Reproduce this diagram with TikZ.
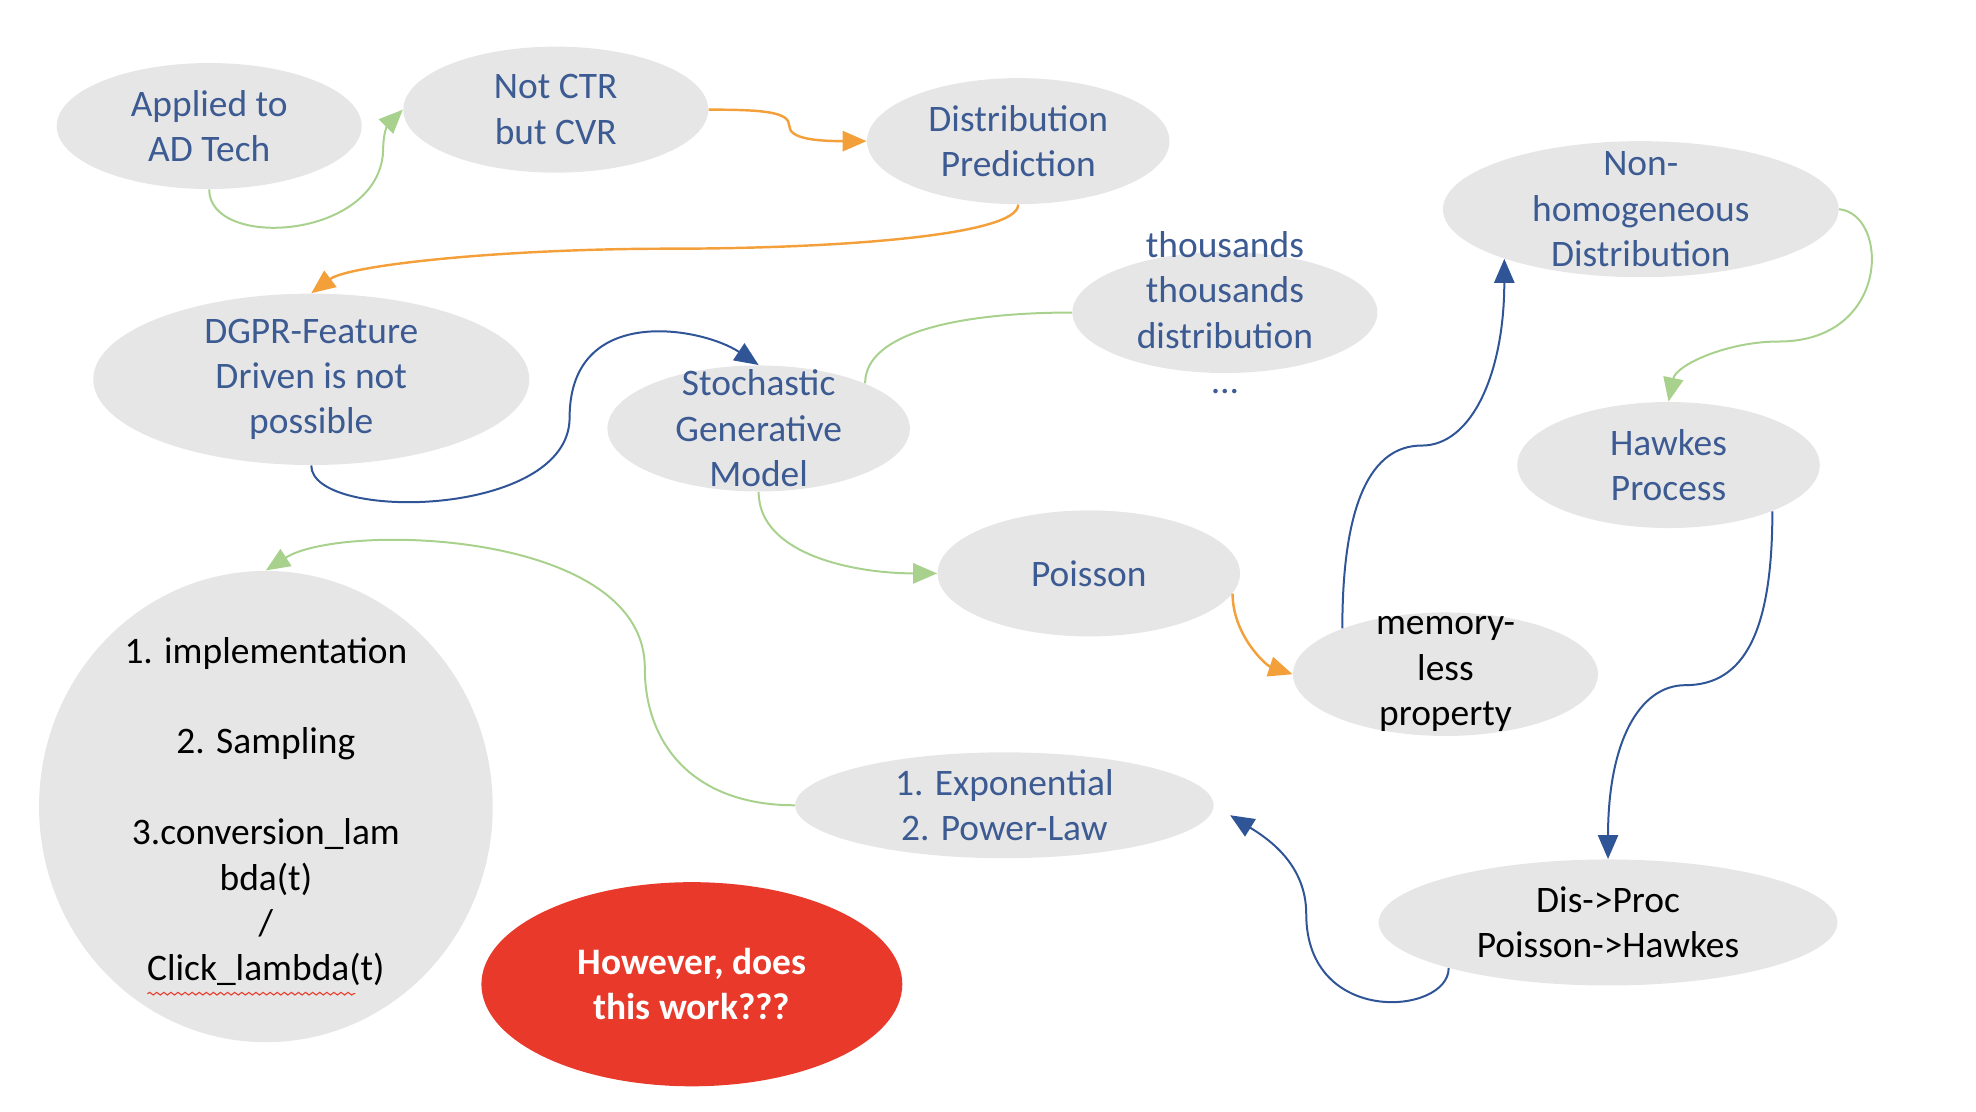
\documentclass[tikz,border=0pt]{standalone}
\usepackage{fontspec}
\setmainfont{Carlito}
\usetikzlibrary{arrows.meta,shapes.geometric,decorations.pathmorphing}

\definecolor{bubblegrey}{HTML}{E7E6E6}
\definecolor{inkblue}{HTML}{3C5B92}
\definecolor{lineblue}{HTML}{2F5597}
\definecolor{linegreen}{HTML}{A9D18E}
\definecolor{lineorange}{HTML}{F4A03A}
\definecolor{alarmred}{HTML}{E8392A}
\definecolor{spellred}{HTML}{E84030}

\begin{document}
\begin{tikzpicture}[
    bubble/.style={ellipse, fill=bubblegrey, inner sep=0},
    words/.style={align=center, inner sep=0,
        font=\fontsize{16.9pt}{20.5pt}\selectfont, text=inkblue},
    blackwords/.style={words, text=black},
    link/.style={-{Triangle[length=.38cm, width=.32cm]}, line width=.9pt},
    greenlink/.style={link, draw=linegreen},
    orangelink/.style={link, draw=lineorange, line width=1.1pt},
    bluelink/.style={link, draw=lineblue},
]
    \useasboundingbox (0, 0) rectangle (31.36, -17.64);

    %% the bubbles, text put on top so the ellipse keeps its size
    \node[bubble, minimum width=4.84cm, minimum height=2cm] (applied)
        at (3.32, -2) {};
    \node[words] (applied-text) at (applied) {Applied to\\AD Tech};
    \node[bubble, minimum width=4.84cm, minimum height=2cm] (notctr)
        at (8.82, -1.74) {};
    \node[words] (notctr-text) at (notctr) {Not CTR\\but CVR};
    \node[bubble, minimum width=4.8cm, minimum height=2cm] (distpred)
        at (16.16, -2.24) {};
    \node[words] (distpred-text) at (distpred) {Distribution\\Prediction};
    \node[bubble, minimum width=6.92cm, minimum height=2.72cm] (dgpr)
        at (4.94, -6.02) {};
    \node[words] (dgpr-text) at (dgpr)
        {DGPR-Feature\\Driven is not\\possible};
    \node[bubble, minimum width=4.8cm, minimum height=2cm] (stoch)
        at (12.04, -6.8) {};
    \node[words] (stoch-text) at (stoch) {Stochastic\\Generative\\Model};
    \node[bubble, minimum width=4.84cm, minimum height=1.92cm] (thous)
        at (19.44, -4.96) {};
    \node[words] (thous-text) at (thous)
        {thousands\\thousands\\distribution\\\dots};
    \node[bubble, minimum width=6.28cm, minimum height=2.16cm] (nonhom)
        at (26.04, -3.32) {};
    \node[words] (nonhom-text) at (nonhom)
        {Non-\\homogeneous\\Distribution};
    \node[bubble, minimum width=4.8cm, minimum height=2cm] (hawkes)
        at (26.48, -7.38) {};
    \node[words] (hawkes-text) at (hawkes) {Hawkes\\Process};
    \node[bubble, minimum width=4.8cm, minimum height=2cm] (poisson)
        at (17.28, -9.1) {};
    \node[words] (poisson-text) at (poisson) {Poisson};
    \node[bubble, minimum width=4.84cm, minimum height=1.96cm] (memory)
        at (22.94, -10.7) {};
    \node[blackwords] (memory-text) at (memory) {memory-\\less\\property};
    \node[bubble, minimum width=6.64cm, minimum height=1.68cm] (expo)
        at (15.94, -12.78) {};
    \node[words] (expo-text) at (expo) {1. Exponential\\2. Power-Law};
    \node[bubble, minimum width=7.28cm, minimum height=2cm] (disproc)
        at (25.52, -14.64) {};
    \node[blackwords] (disproc-text) at (disproc)
        {Dis->Proc\\Poisson->Hawkes};
    \node[bubble, minimum width=7.2cm, minimum height=7.48cm] (big)
        at (4.22, -12.8) {};
    \node[blackwords] (big-text) at ([yshift=-.08cm]big.center)
        {1. implementation\\[20.5pt]2. Sampling\\[20.5pt]3.conversion\_lam\\
         bda(t)\\/\\Click\_lambda(t)};
    \draw[spellred, line width=.5pt, decorate,
        decoration={snake, amplitude=.6pt, segment length=3.2pt}]
        ([shift={(-1.88, -2.97)}]big.center)
        -- ([shift={(1.42, -2.97)}]big.center);
    \node[ellipse, fill=alarmred, inner sep=0, minimum width=6.68cm,
        minimum height=3.24cm] (doubt) at (10.98, -15.62) {};
    \node[words, text=white, font=\fontsize{16.9pt}{20.5pt}\selectfont\bfseries]
        (doubt-text) at (doubt) {However, does\\this work???};

    %% top row and the way down to the generative model
    \draw[greenlink] (applied.south) .. controls +(0, -.96) and +(-.08, -1.4)
        .. ++(2.76, .6) .. controls +(0, .4) and +(-.2, -.2) .. (notctr.west);
    \draw[orangelink] (notctr.east) .. controls +(.9, 0) and +(0, .22)
        .. ++(1.28, -.26) .. controls +(0, -.2) and +(-.8, 0)
        .. (distpred.west);
    \draw[orangelink] (distpred.south) .. controls +(0, -.5) and +(2.6, 0)
        .. ++(-5.56, -.7) .. controls +(-2.6, 0) and +(.6, .45)
        .. (dgpr.north);
    \draw[bluelink] (dgpr.south) .. controls +(0, -.9) and +(0, -1.6)
        .. ++(4.1, .76) .. controls +(0, 1.82) and +(-.9, .6)
        .. (stoch.north);
    \draw[linegreen, line width=.9pt] (stoch.23) .. controls +(0, .8)
        and +(-1.8, 0) .. (thous.west);
    \draw[greenlink] (stoch.south) .. controls +(0, -1) and +(-1.3, 0)
        .. (poisson.west);

    %% right hand side, round to the Hawkes process
    \draw[orangelink] (poisson.-8) .. controls +(0, -.66) and +(-.42, .14)
        .. (memory.west);
    \draw[bluelink] (memory.156) .. controls +(0, 2) and +(-.8, 0)
        .. ++(1.26, 2.9) .. controls +(.8, 0) and +(0, -1.8) .. (nonhom.200);
    \draw[greenlink] (nonhom.east) .. controls +(.8, -.08) and +(1.78, 0)
        .. ++(-.96, -2.1) .. controls +(-.82, 0) and +(.12, .58)
        .. (hawkes.north);
    \draw[bluelink] (hawkes.-24) .. controls +(0, -1.86) and +(.96, 0)
        .. ++(-1.38, -2.76) .. controls +(-.74, 0) and +(0, 1.84)
        .. (disproc.north);
    \draw[bluelink, shorten >=.3cm] (disproc.196) .. controls +(0, -.74)
        and +(0, -1.8) .. ++(-2.26, .86) .. controls +(0, .8) and +(.84, -.52)
        .. (expo.east);
    \draw[greenlink] (expo.west) .. controls +(-1.62, 0) and +(0, -1.2)
        .. ++(-2.38, 2.18) .. controls +(0, 2.2) and +(1.18, .76)
        .. (big.north);
\end{tikzpicture}
\end{document}
